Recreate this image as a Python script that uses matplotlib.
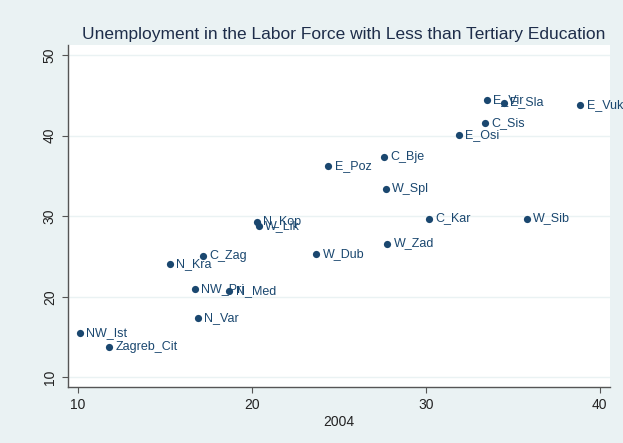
import numpy as np
import matplotlib
matplotlib.use("Agg")
import matplotlib.pyplot as plt

plt.rcParams['font.family'] = ['Liberation Sans', 'DejaVu Sans']

# regions, share 2004 (x) vs unemployment (y)
regions = ['NW_Ist', 'Zagreb_Cit', 'N_Kra', 'C_Zag', 'NW_Pri', 'N_Med', 'N_Var',
           'N_Kop', 'W_Lik', 'W_Dub', 'E_Poz', 'C_Bje', 'W_Spl', 'W_Zad',
           'C_Kar', 'W_Sib', 'E_Osi', 'C_Sis', 'E_Vir', 'E_Sla', 'E_Vuk']
x_2004 = [10.1, 11.8, 15.3, 17.2, 16.7, 18.7, 16.9,
          20.3, 20.4, 23.7, 24.4, 27.6, 27.7, 27.8,
          30.2, 35.8, 31.9, 33.4, 33.5, 34.5, 38.9]
unemp = [15.5, 13.7, 24.1, 25.0, 21.0, 20.7, 17.3,
         29.3, 28.8, 25.3, 36.2, 37.3, 33.4, 26.6,
         29.7, 29.7, 40.1, 41.5, 44.4, 44.1, 43.8]

bg = '#eaf2f3'
navy = '#1a476f'

fig = plt.figure(figsize=(6.23, 4.43), dpi=100, facecolor=bg)
ax = fig.add_axes([0.1091, 0.1271, 0.87, 0.7713])
ax.set_facecolor('white')

ax.scatter(x_2004, unemp, s=27, color=navy, zorder=3, linewidths=0)
for name, xv, yv in zip(regions, x_2004, unemp):
    ax.annotate(name, (xv, yv), xytext=(4.5, 0), textcoords='offset points',
                va='center', ha='left', fontsize=9, color=navy, zorder=4)

ax.set_xlim(9.42, 40.6)
ax.set_ylim(8.83, 51.24)
ax.set_xticks([10, 20, 30, 40])
ax.set_yticks([10, 20, 30, 40, 50])
ax.set_yticklabels(['10', '20', '30', '40', '50'], rotation=90, va='center')
ax.tick_params(axis='both', labelsize=10, colors='#222222', length=4,
               width=0.8, direction='out', pad=4)
ax.tick_params(axis='both', color='#555555')
ax.grid(axis='y', color=bg, linewidth=1.0, zorder=0)
ax.set_axisbelow(True)

for s in ['top', 'right']:
    ax.spines[s].set_visible(False)
for s in ['left', 'bottom']:
    ax.spines[s].set_color('#555555')
    ax.spines[s].set_linewidth(1.0)

ax.set_xlabel('2004', fontsize=10, color='#222222', labelpad=2)
ax.set_title('Unemployment in the Labor Force with Less than Tertiary Education',
             fontsize=12.5, color='#1e2d4a', pad=4, x=0.508)

fig.savefig('out.png', dpi=100, facecolor=bg)
